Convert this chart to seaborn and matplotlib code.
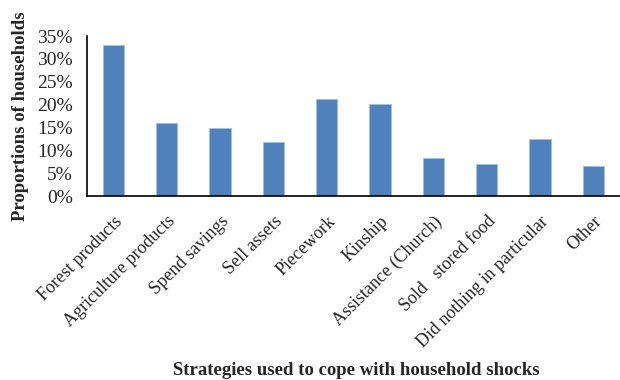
import matplotlib
matplotlib.use("Agg")
import matplotlib.pyplot as plt
import matplotlib.ticker as mticker
import seaborn as sns
import numpy as np

categories = ["Forest products", "Agriculture products", "Spend savings", "Sell assets",
              "Piecework", "Kinship", "Assistance (Church)", "Sold   stored food",
              "Did nothing in particular", "Other"]
values = [0.331, 0.159, 0.148, 0.118, 0.213, 0.201, 0.083, 0.071, 0.124, 0.065]

sns.set_style("white")
plt.rcParams["font.family"] = ["Liberation Serif", "DejaVu Serif"]

fig = plt.figure(figsize=(6.2, 3.8), dpi=100)
ax = fig.add_axes([0.140, 0.484, 0.860, 0.421])

sns.barplot(x=categories, y=values, color="#4F81BD", width=0.4, saturation=1,
            edgecolor="#A7BFDE", linewidth=0.6, ax=ax)

ax.set_xlim(-0.5, len(categories) - 0.5)
ax.set_ylim(0, 0.35)
ax.yaxis.set_major_locator(mticker.MultipleLocator(0.05))
ax.yaxis.set_major_formatter(mticker.PercentFormatter(1.0, decimals=0))

# category ticks sit between bars, labels at centres
ax.set_xticks(np.arange(len(categories)))
ax.set_xticklabels(categories, rotation=45, ha="right", rotation_mode="anchor", fontsize=13)
ax.set_xticks(np.arange(len(categories) + 1) - 0.5, minor=True)
ax.tick_params(axis="x", which="major", length=0, pad=12)
ax.tick_params(axis="x", which="minor", length=5, width=1.2, color="black", direction="out")
ax.tick_params(axis="y", length=5, width=1.2, color="black", direction="out", labelsize=14, pad=5)

for s in ["top", "right"]:
    ax.spines[s].set_visible(False)
for s in ["left", "bottom"]:
    ax.spines[s].set_color("black")
    ax.spines[s].set_linewidth(1.2)

ax.set_ylabel("Proportions of households", fontsize=13.5, fontweight="bold", labelpad=6)
ax.set_xlabel("")
fig.text(0.575, 0.012, "Strategies used to cope with household shocks", ha="center",
         fontsize=13.5, fontweight="bold")

fig.savefig("out.png", dpi=100)
